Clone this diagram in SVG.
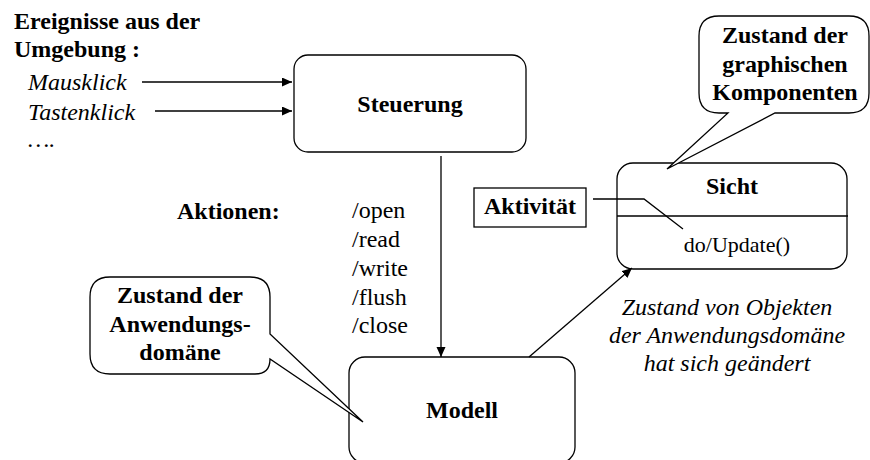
<svg xmlns="http://www.w3.org/2000/svg" width="870" height="460" viewBox="0 0 870 460" style="font-family:'Liberation Serif',serif">
<defs>
  <marker id="ah" markerUnits="userSpaceOnUse" markerWidth="11" markerHeight="10" refX="10" refY="4.5" orient="auto">
    <path d="M0,0 L10,4.5 L0,9 Z" fill="#000"/>
  </marker>
</defs>
<rect width="870" height="460" fill="#fff"/>

<g id="events" style="font-family:'Liberation Serif',serif;font-size:24px">
  <text x="14" y="29" style="font-family:'Liberation Serif',serif;font-weight:bold">Ereignisse aus der</text>
  <text x="14" y="57" style="font-family:'Liberation Serif',serif;font-weight:bold">Umgebung :</text>
  <text x="28" y="90" style="font-family:'Liberation Serif',serif;font-style:italic">Mausklick</text>
  <text x="28" y="120" style="font-family:'Liberation Serif',serif;font-style:italic">Tastenklick</text>
  <text x="28" y="147" style="font-family:'Liberation Serif',serif;font-style:italic">….</text>
</g>

<g id="steuerung">
  <rect x="294" y="55" width="232" height="97" rx="14" fill="#fff" stroke="#000" stroke-width="1.3"/>
  <text x="410" y="112" style="font-family:'Liberation Serif',serif;font-size:24px;font-weight:bold;text-anchor:middle">Steuerung</text>
</g>

<g id="modell">
  <rect x="349" y="357" width="226" height="106" rx="16" fill="#fff" stroke="#000" stroke-width="1.3"/>
  <text x="462" y="418" style="font-family:'Liberation Serif',serif;font-size:24px;font-weight:bold;text-anchor:middle">Modell</text>
</g>

<g id="sicht">
  <rect x="617" y="163" width="230" height="106" rx="16" fill="#fff" stroke="#000" stroke-width="1.3"/>
  <line x1="617" y1="216" x2="848" y2="216" stroke="#000" stroke-width="1.3"/>
  <text x="732" y="194" style="font-family:'Liberation Serif',serif;font-size:24px;font-weight:bold;text-anchor:middle">Sicht</text>
  <text x="737" y="252" style="font-family:'Liberation Serif',serif;font-size:22px;text-anchor:middle">do/Update()</text>
</g>

<g id="aktivitaet">
  <rect x="474" y="188" width="112" height="39" fill="#fff" stroke="#000" stroke-width="1.3"/>
  <text x="530" y="214" style="font-family:'Liberation Serif',serif;font-size:24px;font-weight:bold;text-anchor:middle">Aktivität</text>
</g>

<g id="aktionen" style="font-family:'Liberation Serif',serif;font-size:24px">
  <text x="177" y="219" style="font-family:'Liberation Serif',serif;font-weight:bold">Aktionen:</text>
  <text x="352" y="218" style="font-family:'Liberation Serif',serif">/open</text>
  <text x="352" y="247" style="font-family:'Liberation Serif',serif">/read</text>
  <text x="352" y="276" style="font-family:'Liberation Serif',serif">/write</text>
  <text x="352" y="305" style="font-family:'Liberation Serif',serif">/flush</text>
  <text x="352" y="333" style="font-family:'Liberation Serif',serif">/close</text>
</g>

<g id="callout-anwendung">
  <path d="M110,277 H250 Q270,277 270,297 V334 L363,422 L270,359 Q270,374 255,374 H110 Q90,374 90,354 V297 Q90,277 110,277 Z" fill="#fff" stroke="#000" stroke-width="1.3"/>
  <g style="font-family:'Liberation Serif',serif;font-size:24px;font-weight:bold;text-anchor:middle">
    <text x="180" y="303" style="font-family:'Liberation Serif',serif">Zustand der</text>
    <text x="180" y="332" style="font-family:'Liberation Serif',serif">Anwendungs-</text>
    <text x="180" y="360" style="font-family:'Liberation Serif',serif">domäne</text>
  </g>
</g>

<g id="callout-graphisch">
  <path d="M719,16 H849 Q869,16 869,36 V93 Q869,113 849,113 H775 L667,169 L728,113 H719 Q699,113 699,93 V36 Q699,16 719,16 Z" fill="#fff" stroke="#000" stroke-width="1.3"/>
  <g style="font-family:'Liberation Serif',serif;font-size:24px;font-weight:bold;text-anchor:middle">
    <text x="785" y="43" style="font-family:'Liberation Serif',serif">Zustand der</text>
    <text x="785" y="72" style="font-family:'Liberation Serif',serif">graphischen</text>
    <text x="785" y="100" style="font-family:'Liberation Serif',serif">Komponenten</text>
  </g>
</g>

<g id="aenderung" style="font-family:'Liberation Serif',serif;font-size:24px;font-style:italic;text-anchor:middle">
  <text x="727" y="315" style="font-family:'Liberation Serif',serif">Zustand von Objekten</text>
  <text x="727" y="343" style="font-family:'Liberation Serif',serif">der Anwendungsdomäne</text>
  <text x="727" y="371" style="font-family:'Liberation Serif',serif">hat sich geändert</text>
</g>

<g id="connectors" fill="none" stroke="#000" stroke-width="1.3">
  <line x1="142" y1="82" x2="292" y2="82" marker-end="url(#ah)"/>
  <line x1="155" y1="111" x2="292" y2="111" marker-end="url(#ah)"/>
  <line x1="441" y1="156" x2="441" y2="357" marker-end="url(#ah)"/>
  <line x1="529" y1="357" x2="632" y2="268" marker-end="url(#ah)"/>
  <polyline points="593,199 644,199 683,229"/>
</g>
</svg>
